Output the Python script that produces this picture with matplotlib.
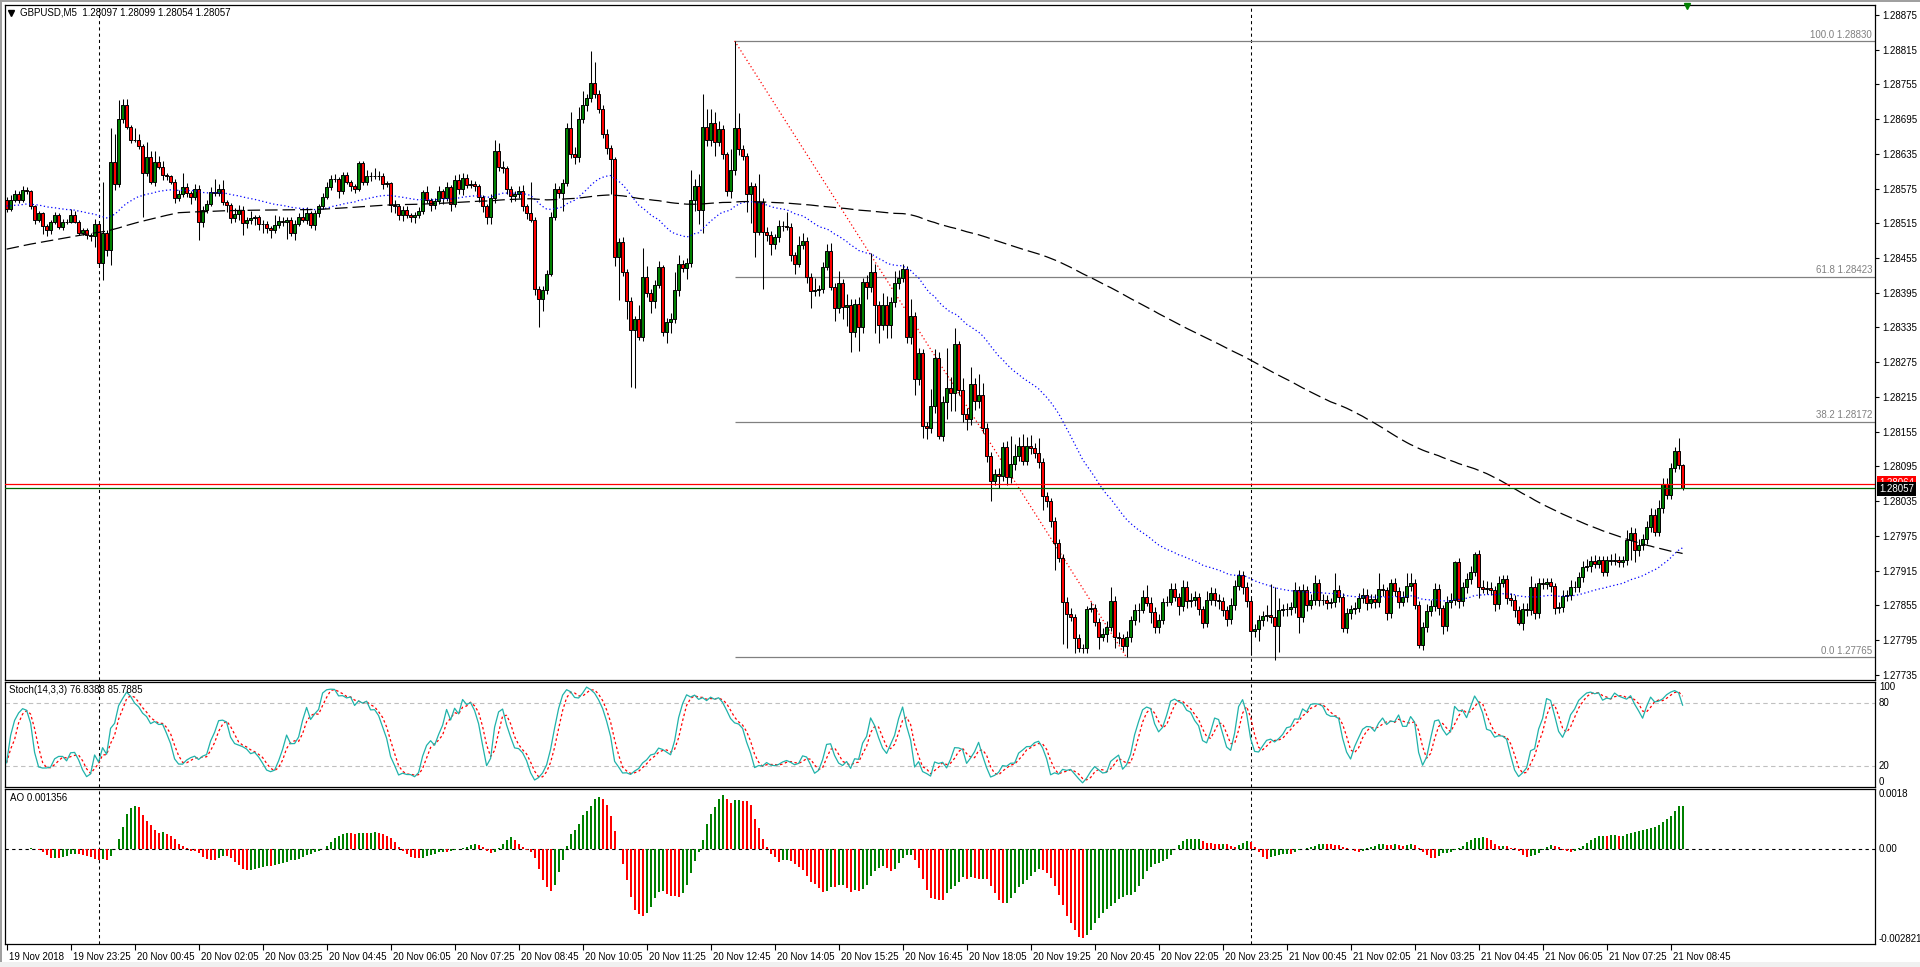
import numpy as np
import pandas as pd
import matplotlib
matplotlib.use("Agg")
import matplotlib.pyplot as plt
from matplotlib.transforms import blended_transform_factory, ScaledTranslation
from matplotlib.lines import Line2D
from matplotlib.patches import Rectangle

plt.rcParams['font.family'] = ['Liberation Sans', 'DejaVu Sans']

# ---------------- data ----------------
symbol_header = "GBPUSD,M5  1.28097 1.28099 1.28054 1.28057"
stoch_header = "Stoch(14,3,3) 76.8388 85.7885"
ao_header = "AO 0.001356"

first_open = 1.28555
closes = [
    1.28540, 1.28555, 1.28566, 1.28555, 1.28572, 1.28570, 1.28544, 1.28520, 1.28532, 1.28511, 1.28503, 1.28517, 1.28529, 1.28509, 1.28517, 1.28518, 1.28529, 1.28518, 1.28499, 1.28503,
    1.28494, 1.28493, 1.28514, 1.28446, 1.28498, 1.28469, 1.28621, 1.28583, 1.28695, 1.28719, 1.28682, 1.28658, 1.28659, 1.28649, 1.28601, 1.28629, 1.28586, 1.28620, 1.28613, 1.28598,
    1.28596, 1.28587, 1.28558, 1.28566, 1.28577, 1.28567, 1.28561, 1.28575, 1.28518, 1.28538, 1.28549, 1.28569, 1.28567, 1.28574, 1.28552, 1.28547, 1.28524, 1.28531, 1.28538, 1.28515,
    1.28520, 1.28524, 1.28525, 1.28513, 1.28513, 1.28506, 1.28503, 1.28512, 1.28519, 1.28518, 1.28521, 1.28499, 1.28514, 1.28526, 1.28521, 1.28533, 1.28512, 1.28532, 1.28544, 1.28561,
    1.28578, 1.28592, 1.28591, 1.28570, 1.28598, 1.28587, 1.28579, 1.28575, 1.28619, 1.28587, 1.28597, 1.28596, 1.28597, 1.28597, 1.28583, 1.28584, 1.28547, 1.28545, 1.28529, 1.28538,
    1.28529, 1.28526, 1.28529, 1.28537, 1.28569, 1.28555, 1.28547, 1.28553, 1.28571, 1.28558, 1.28577, 1.28549, 1.28590, 1.28574, 1.28594, 1.28581, 1.28582, 1.28579, 1.28560, 1.28544,
    1.28525, 1.28558, 1.28640, 1.28612, 1.28610, 1.28574, 1.28562, 1.28565, 1.28571, 1.28545, 1.28532, 1.28521, 1.28401, 1.28384, 1.28400, 1.28428, 1.28526, 1.28574, 1.28567, 1.28584,
    1.28679, 1.28634, 1.28629, 1.28695, 1.28719, 1.28731, 1.28757, 1.28738, 1.28712, 1.28669, 1.28645, 1.28626, 1.28457, 1.28483, 1.28430, 1.28380, 1.28330, 1.28349, 1.28319, 1.28422,
    1.28395, 1.28380, 1.28409, 1.28439, 1.28327, 1.28345, 1.28350, 1.28400, 1.28445, 1.28438, 1.28447, 1.28556, 1.28579, 1.28538, 1.28682, 1.28658, 1.28688, 1.28656, 1.28677, 1.28634,
    1.28570, 1.28607, 1.28679, 1.28643, 1.28631, 1.28566, 1.28579, 1.28500, 1.28552, 1.28500, 1.28495, 1.28480, 1.28491, 1.28511, 1.28510, 1.28509, 1.28460, 1.28445, 1.28478, 1.28485,
    1.28423, 1.28398, 1.28400, 1.28402, 1.28440, 1.28467, 1.28405, 1.28368, 1.28412, 1.28370, 1.28373, 1.28327, 1.28375, 1.28335, 1.28414, 1.28405, 1.28430, 1.28373, 1.28339, 1.28374,
    1.28339, 1.28379, 1.28412, 1.28421, 1.28436, 1.28319, 1.28355, 1.28246, 1.28291, 1.28164, 1.28161, 1.28199, 1.28282, 1.28148, 1.28206, 1.28230, 1.28221, 1.28307, 1.28227, 1.28185,
    1.28176, 1.28237, 1.28208, 1.28219, 1.28162, 1.28113, 1.28070, 1.28082, 1.28078, 1.28128, 1.28076, 1.28099, 1.28113, 1.28131, 1.28105, 1.28131, 1.28127, 1.28118, 1.28103, 1.28044,
    1.28035, 1.28001, 1.27962, 1.27937, 1.27861, 1.27840, 1.27834, 1.27799, 1.27781, 1.27781, 1.27849, 1.27850, 1.27827, 1.27801, 1.27806, 1.27818, 1.27863, 1.27801, 1.27799, 1.27784,
    1.27801, 1.27829, 1.27847, 1.27847, 1.27870, 1.27859, 1.27844, 1.27818, 1.27830, 1.27860, 1.27861, 1.27883, 1.27870, 1.27854, 1.27887, 1.27862, 1.27864, 1.27870, 1.27848, 1.27825,
    1.27864, 1.27877, 1.27864, 1.27863, 1.27847, 1.27831, 1.27855, 1.27888, 1.27908, 1.27887, 1.27862, 1.27811, 1.27814, 1.27829, 1.27836, 1.27838, 1.27834, 1.27819, 1.27847, 1.27848,
    1.27849, 1.27852, 1.27881, 1.27835, 1.27881, 1.27856, 1.27864, 1.27893, 1.27864, 1.27865, 1.27859, 1.27860, 1.27882, 1.27869, 1.27815, 1.27841, 1.27848, 1.27851, 1.27867, 1.27873,
    1.27859, 1.27866, 1.27860, 1.27883, 1.27881, 1.27841, 1.27893, 1.27879, 1.27861, 1.27869, 1.27888, 1.27893, 1.27856, 1.27786, 1.27817, 1.27846, 1.27854, 1.27883, 1.27850, 1.27819,
    1.27861, 1.27864, 1.27929, 1.27863, 1.27886, 1.27900, 1.27913, 1.27943, 1.27887, 1.27884, 1.27885, 1.27881, 1.27857, 1.27894, 1.27900, 1.27867, 1.27864, 1.27847, 1.27825, 1.27849,
    1.27847, 1.27886, 1.27841, 1.27893, 1.27891, 1.27895, 1.27888, 1.27850, 1.27852, 1.27871, 1.27873, 1.27887, 1.27886, 1.27904, 1.27922, 1.27923, 1.27932, 1.27927, 1.27933, 1.27913,
    1.27933, 1.27932, 1.27933, 1.27930, 1.27933, 1.27968, 1.27980, 1.27951, 1.27959, 1.27969, 1.27991, 1.28011, 1.27982, 1.28023, 1.28065, 1.28046, 1.28093, 1.28121, 1.28097, 1.28057,
]
# wick lengths above the body top / below the body bottom, in points (0.00001)
upper_wick_pts = [
    5, 8, 6, 4, 8, 6, 3, 2, 5, 2, 3, 4, 5, 3, 6, 4, 10, 8, 2, 3,
    3, 4, 8, 5, 89, 5, 59, 48, 33, 10, 10, 3, 20, 10, 3, 27, 10, 19, 12, 10,
    4, 3, 5, 6, 25, 8, 4, 8, 6, 6, 6, 8, 23, 8, 16, 4, 3, 10, 8, 6,
    6, 12, 4, 4, 8, 6, 4, 18, 8, 6, 5, 4, 6, 6, 14, 10, 4, 6, 4, 6,
    8, 6, 8, 4, 6, 6, 3, 4, 3, 4, 10, 6, 14, 8, 4, 4, 3, 8, 4, 6,
    6, 4, 6, 6, 3, 10, 4, 6, 8, 4, 10, 4, 8, 10, 8, 6, 8, 6, 4, 4,
    4, 8, 18, 14, 10, 4, 6, 6, 8, 10, 4, 55, 4, 6, 6, 6, 8, 10, 6, 8,
    10, 28, 12, 20, 25, 8, 55, 36, 8, 7, 8, 6, 4, 6, 8, 6, 8, 6, 24, 51,
    20, 6, 8, 10, 4, 6, 10, 30, 15, 6, 8, 51, 12, 21, 56, 30, 25, 20, 14, 8,
    4, 36, 151, 27, 8, 5, 8, 6, 48, 6, 8, 6, 6, 10, 8, 25, 6, 6, 15, 13,
    6, 6, 20, 6, 8, 12, 14, 6, 20, 6, 20, 12, 10, 12, 6, 12, 34, 14, 8, 20,
    15, 8, 20, 14, 8, 6, 29, 6, 8, 6, 8, 30, 16, 10, 10, 69, 20, 27, 4, 20,
    10, 29, 10, 35, 20, 8, 6, 8, 10, 9, 10, 49, 20, 14, 20, 14, 18, 8, 26, 6,
    6, 6, 6, 8, 6, 8, 11, 6, 6, 8, 4, 11, 7, 6, 10, 10, 24, 8, 8, 6,
    10, 8, 10, 12, 12, 20, 10, 8, 10, 8, 10, 10, 10, 6, 12, 10, 12, 10, 6, 6,
    15, 10, 8, 10, 6, 6, 12, 10, 8, 6, 8, 6, 8, 10, 10, 18, 54, 53, 20, 10,
    10, 8, 15, 8, 10, 8, 10, 15, 8, 10, 8, 8, 28, 8, 8, 10, 8, 10, 10, 12,
    10, 8, 8, 27, 8, 6, 8, 10, 8, 10, 22, 17, 8, 6, 10, 12, 10, 10, 8, 6,
    10, 12, 2, 8, 10, 10, 10, 4, 8, 12, 12, 10, 8, 12, 8, 8, 10, 8, 6, 10,
    10, 20, 8, 10, 10, 8, 8, 6, 8, 10, 8, 12, 10, 8, 10, 12, 8, 10, 8, 8,
    8, 10, 12, 8, 8, 17, 10, 8, 10, 10, 10, 12, 10, 14, 10, 10, 8, 7, 23, 2,
]
lower_wick_pts = [
    6, 4, 3, 5, 3, 4, 5, 6, 3, 15, 10, 6, 3, 4, 5, 4, 3, 2, 4, 5,
    6, 8, 19, 3, 29, 10, 26, 10, 5, 6, 4, 4, 3, 6, 75, 5, 4, 6, 4, 8,
    6, 5, 8, 4, 5, 6, 12, 5, 32, 10, 5, 4, 5, 5, 6, 12, 8, 6, 10, 20,
    8, 6, 12, 10, 14, 8, 14, 4, 5, 8, 30, 6, 13, 4, 4, 8, 5, 8, 6, 5,
    4, 6, 5, 12, 4, 5, 8, 8, 4, 6, 6, 8, 5, 8, 8, 6, 12, 12, 8, 10,
    5, 8, 10, 5, 6, 5, 10, 8, 5, 10, 4, 12, 6, 8, 10, 5, 5, 8, 8, 10,
    12, 12, 8, 6, 8, 8, 10, 8, 6, 8, 10, 4, 10, 48, 21, 8, 4, 6, 8, 30,
    4, 6, 12, 8, 6, 10, 6, 6, 6, 6, 10, 60, 15, 75, 6, 30, 98, 100, 5, 8,
    8, 20, 12, 6, 6, 18, 20, 8, 10, 8, 20, 8, 20, 25, 40, 10, 10, 25, 8, 8,
    8, 12, 8, 10, 6, 32, 50, 43, 5, 98, 10, 20, 10, 8, 8, 6, 10, 17, 6, 8,
    12, 29, 8, 10, 8, 6, 6, 22, 8, 20, 33, 35, 8, 40, 10, 20, 8, 47, 30, 8,
    23, 23, 8, 10, 8, 10, 12, 27, 10, 20, 19, 8, 12, 5, 10, 30, 30, 30, 8, 13,
    18, 10, 15, 12, 10, 10, 35, 8, 20, 8, 13, 10, 10, 8, 8, 8, 10, 8, 10, 24,
    10, 10, 46, 8, 73, 59, 6, 27, 6, 9, 8, 6, 8, 22, 8, 15, 8, 20, 10, 8,
    19, 10, 8, 20, 6, 6, 20, 11, 11, 8, 6, 6, 8, 15, 8, 12, 10, 10, 10, 10,
    8, 8, 10, 14, 10, 12, 8, 8, 6, 12, 10, 42, 10, 20, 10, 8, 10, 59, 44, 10,
    12, 10, 10, 27, 8, 10, 8, 8, 10, 8, 10, 8, 8, 8, 6, 8, 10, 8, 8, 8,
    12, 8, 10, 8, 10, 12, 8, 8, 10, 8, 8, 8, 8, 5, 8, 8, 10, 8, 12, 14,
    8, 10, 8, 12, 10, 10, 8, 8, 20, 8, 10, 8, 12, 8, 8, 10, 10, 12, 4, 12,
    10, 8, 10, 8, 8, 8, 10, 10, 8, 8, 8, 8, 8, 8, 8, 8, 10, 8, 8, 8,
    8, 8, 8, 8, 8, 8, 35, 22, 10, 8, 8, 10, 8, 8, 8, 8, 8, 8, 6, 3,
]

x_labels = ["19 Nov 2018", "19 Nov 23:25", "20 Nov 00:45", "20 Nov 02:05", "20 Nov 03:25",
            "20 Nov 04:45", "20 Nov 06:05", "20 Nov 07:25", "20 Nov 08:45", "20 Nov 10:05",
            "20 Nov 11:25", "20 Nov 12:45", "20 Nov 14:05", "20 Nov 15:25", "20 Nov 16:45",
            "20 Nov 18:05", "20 Nov 19:25", "20 Nov 20:45", "20 Nov 22:05", "20 Nov 23:25",
            "21 Nov 00:45", "21 Nov 02:05", "21 Nov 03:25", "21 Nov 04:45", "21 Nov 06:05",
            "21 Nov 07:25", "21 Nov 08:45"]
bars_per_label = 16
separator_bars = [23, 311]

price_ticks = [1.27735, 1.27795, 1.27855, 1.27915, 1.27975, 1.28035, 1.28095, 1.28155,
               1.28215, 1.28275, 1.28335, 1.28395, 1.28455, 1.28515, 1.28575, 1.28635,
               1.28695, 1.28755, 1.28815, 1.28875]

fib_names = ["100.0", "61.8", "38.2", "0.0"]
fib_levels = [1.28830, 1.28423, 1.28172, 1.27765]
fib_high_bar = 182
fib_low_bar = 280

ask_price = 1.28064
bid_price = 1.28057

# fast MA (blue dotted): EMA 50, its value at the first bar
ma_fast_period, ma_fast_start = 50, 1.28545
# slow MA (black dashed): SMA 200; the 200 bars before the chart are estimated
# from the MA's own path as three blocks (bar count, mean close), oldest first
ma_slow_period = 200
prior_block_bars = [44, 96, 60]
prior_block_means = [1.28270, 1.28500, 1.28565]

stoch_levels = [20, 80]
ao_axis_max = 0.0018
ao_axis_min = -0.002821

# ---------------- derived series ----------------
c = np.array(closes)
o = np.r_[first_open, c[:-1]]
hi = np.maximum(o, c) + np.array(upper_wick_pts) * 1e-5
lo = np.minimum(o, c) - np.array(lower_wick_pts) * 1e-5
n = len(c)
x = np.arange(n)


def ema(vals, period, start):
    a = 2.0 / (period + 1)
    out = np.empty(len(vals))
    prev = start
    for i, v in enumerate(vals):
        prev = prev + a * (v - prev)
        out[i] = prev
    return out


ma_fast = ema(c, ma_fast_period, ma_fast_start)
history = np.r_[np.repeat(prior_block_means, prior_block_bars), c]
ma_slow = pd.Series(history).rolling(ma_slow_period).mean().values[-n:]

hs, ls, cs = pd.Series(hi), pd.Series(lo), pd.Series(c)
hh = hs.rolling(14, min_periods=1).max()
ll = ls.rolling(14, min_periods=1).min()
num = (cs - ll).rolling(3, min_periods=1).sum()
den = (hh - ll).rolling(3, min_periods=1).sum()
stoch_k = 100 * num / den
stoch_d = stoch_k.rolling(3, min_periods=1).mean()

med = (hs + ls) / 2
ao = (med.rolling(5, min_periods=1).mean() - med.rolling(34, min_periods=1).mean()).values
ao_up = np.r_[True, ao[1:] > ao[:-1]]

# ---------------- figure / layout ----------------
W, H = 1920, 967
fig = plt.figure(figsize=(W / 100, H / 100), dpi=100)
fig.patch.set_facecolor('white')


def rect(left, top, right, bottom):
    return [left / W, 1 - bottom / H, (right - left) / W, (bottom - top) / H]


ax_m = fig.add_axes(rect(5, 5, 1875, 680))
ax_s = fig.add_axes(rect(5, 682, 1875, 787))
ax_a = fig.add_axes(rect(5, 789, 1875, 944))

XMIN, XMAX = -0.4, 467.1
FS = 7
for ax in (ax_m, ax_s, ax_a):
    ax.set_xlim(XMIN, XMAX)
    for sp in ax.spines.values():
        sp.set_color('black')
        sp.set_linewidth(0.9)
    ax.set_facecolor('white')
    for b in separator_bars:
        ax.axvline(b, color='black', lw=0.75, ls=(0, (3, 3)), zorder=1)

# ---------------- main panel ----------------
ax_m.set_ylim(1.27726, 1.28892)
ax_m.set_xticks([])
ax_m.yaxis.tick_right()
ax_m.set_yticks(price_ticks)
ax_m.set_yticklabels([f"{v:.5f}" for v in price_ticks], fontsize=FS)
ax_m.tick_params(axis='y', direction='out', length=3, width=0.8, pad=2, colors='black')

# fibonacci
ax_m.hlines(fib_levels, fib_high_bar, XMAX, color='#808080', lw=0.9, zorder=1)
ax_m.plot([fib_high_bar, fib_low_bar], [fib_levels[0], fib_levels[-1]],
          color='red', lw=0.9, ls=(0, (1, 2)), zorder=1.5)
tr = blended_transform_factory(ax_m.transAxes, ax_m.transData)
for name, lev in zip(fib_names, fib_levels):
    ax_m.annotate(f"{name} {lev:.5f}", xy=(1, lev), xycoords=tr, xytext=(-2, 1),
                  textcoords='offset points', ha='right', va='bottom',
                  fontsize=FS, color='#808080')

# candles
bull = c >= o
ax_m.vlines(x, lo, hi, color='black', lw=0.75, zorder=2)
ax_m.bar(x[bull], (c - o)[bull], bottom=o[bull], width=0.6, color='#008000',
         edgecolor='black', linewidth=0.7, zorder=2.5)
ax_m.bar(x[~bull], (o - c)[~bull], bottom=c[~bull], width=0.6, color='#FF0000',
         edgecolor='black', linewidth=0.7, zorder=2.5)

# moving averages
ax_m.plot(x, ma_fast, color='#0000FF', lw=0.9, ls=(0, (1, 2)), zorder=3)
ax_m.plot(x, ma_slow, color='black', lw=0.9, ls=(0, (10, 4)), zorder=3)

# ask / bid lines
ax_m.axhline(ask_price, color='#FF0000', lw=0.9, zorder=4)
ax_m.axhline(bid_price, color='#006400', lw=0.9, zorder=4)
ax_m.text(1 + 4 / 1870, ask_price + 0.00002, f"{ask_price:.5f}", transform=tr, ha='left',
          va='center', fontsize=FS, color='white', clip_on=False, zorder=5,
          bbox=dict(boxstyle='square,pad=0.2', fc='#FF0000', ec='none'))
ax_m.text(1 + 4 / 1870, bid_price - 0.00001, f"{bid_price:.5f}", transform=tr, ha='left',
          va='center', fontsize=FS, color='white', clip_on=False, zorder=6,
          bbox=dict(boxstyle='square,pad=0.2', fc='black', ec='none'))

# chart-shift marker
ax_m.plot([n], [1.28892 - 0.00001], marker='v', color='#008000', ms=5,
          clip_on=False, zorder=6, ls='none')

# header
fig.text(20 / W, 1 - 12.7 / H, symbol_header, fontsize=FS, va='center', ha='left')
fig.add_artist(Line2D([11 / W], [1 - 12.5 / H], marker='v', color='black', ms=4,
                      transform=fig.transFigure, ls='none'))

# ---------------- stochastic ----------------
ax_s.set_ylim(0, 100)
ax_s.set_xticks([])
ax_s.set_yticks([])
for lev in stoch_levels:
    ax_s.axhline(lev, color='#C0C0C0', lw=0.8, ls=(0, (4, 3)), zorder=1)
ax_s.plot(x, stoch_k, color='#20B2AA', lw=0.9, zorder=3)
ax_s.plot(x, stoch_d, color='#FF0000', lw=0.9, ls=(0, (2, 2)), zorder=2)
trs = blended_transform_factory(ax_s.transAxes, ax_s.transData)
ax_s.text(1 + 4 / 1870, 100, "100", transform=trs, ha='left', va='top', fontsize=FS, clip_on=False)
ax_s.text(1 + 4 / 1870, 80, "80", transform=trs, ha='left', va='center', fontsize=FS, clip_on=False)
ax_s.text(1 + 4 / 1870, 20, "20", transform=trs, ha='left', va='center', fontsize=FS, clip_on=False)
ax_s.text(1 + 4 / 1870, 0, "0", transform=trs, ha='left', va='bottom', fontsize=FS, clip_on=False)
ax_s.text(4 / 1870, 0.92, stoch_header, transform=ax_s.transAxes, ha='left', va='center', fontsize=FS)

# ---------------- awesome oscillator ----------------
ax_a.set_ylim(ao_axis_min, ao_axis_max)
ax_a.bar(x, ao, width=0.5, color=np.where(ao_up, '#008000', '#FF0000'), linewidth=0, zorder=2)
ax_a.axhline(0, color='black', lw=0.8, ls=(0, (3, 3)), zorder=1)
ax_a.set_yticks([])
tra = blended_transform_factory(ax_a.transAxes, ax_a.transData)
ax_a.text(1 + 4 / 1870, ao_axis_max, "0.0018", transform=tra, ha='left', va='top', fontsize=FS, clip_on=False)
ax_a.text(1 + 4 / 1870, 0, "0.00", transform=tra, ha='left', va='center', fontsize=FS, clip_on=False)
ax_a.text(1 + 4 / 1870, ao_axis_min, "-0.002821", transform=tra, ha='left', va='bottom', fontsize=FS, clip_on=False)
ax_a.text(5 / 1870, 0.94, ao_header, transform=ax_a.transAxes, ha='left', va='center', fontsize=FS)

ax_a.set_xticks(np.arange(len(x_labels)) * bars_per_label)
ax_a.set_xticklabels(x_labels, fontsize=FS)
ax_a.tick_params(axis='x', direction='out', length=4, width=0.8, pad=1.5, colors='black')
offset = ScaledTranslation(2 / 100, 0, fig.dpi_scale_trans)
for lbl in ax_a.get_xticklabels():
    lbl.set_ha('left')
    lbl.set_transform(lbl.get_transform() + offset)

# window frame
fig.add_artist(Rectangle((0, 1 - 2 / H), 1, 2 / H, transform=fig.transFigure, color='#A0A0A0', lw=0))
fig.add_artist(Rectangle((0, 0), 2 / W, 1, transform=fig.transFigure, color='#A0A0A0', lw=0))
fig.add_artist(Rectangle((0, 0), 1, 5 / H, transform=fig.transFigure, color='#F0F0F0', lw=0))

fig.savefig("out.png", dpi=100, facecolor='white')
